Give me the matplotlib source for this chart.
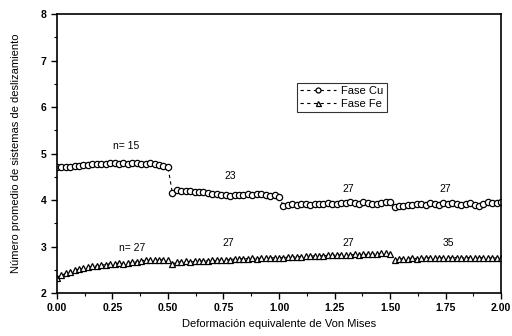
import numpy as np
import matplotlib
matplotlib.use("Agg")
import matplotlib.pyplot as plt
from matplotlib.ticker import MultipleLocator

plt.rcParams['font.family'] = ['Liberation Sans', 'DejaVu Sans']

# strain grid (sampling every 0.02 from 0 to 2.0)
strain = np.round(np.arange(0, 101) * 0.02, 2)

cu_seg1 = [4.71, 4.72, 4.71, 4.72, 4.73, 4.74, 4.75, 4.76, 4.77, 4.77, 4.78, 4.78, 4.79,
           4.79, 4.78, 4.79, 4.78, 4.79, 4.80, 4.78, 4.77, 4.79, 4.77, 4.76, 4.74, 4.71]
cu_seg2 = [4.15, 4.22, 4.20, 4.19, 4.19, 4.18, 4.17, 4.17, 4.15, 4.13, 4.12, 4.10, 4.10,
           4.09, 4.10, 4.10, 4.11, 4.12, 4.11, 4.12, 4.13, 4.10, 4.08, 4.10, 4.07]
cu_seg3 = [3.87, 3.90, 3.91, 3.90, 3.92, 3.91, 3.90, 3.92, 3.91, 3.92, 3.93, 3.91, 3.92,
           3.94, 3.93, 3.95, 3.93, 3.92, 3.95, 3.93, 3.92, 3.91, 3.94, 3.95, 3.96]
cu_seg4 = [3.85, 3.88, 3.87, 3.89, 3.90, 3.91, 3.92, 3.90, 3.93, 3.91, 3.90, 3.93, 3.92,
           3.94, 3.91, 3.90, 3.92, 3.94, 3.90, 3.88, 3.91, 3.95, 3.94, 3.93, 3.95]

fe_seg1 = [2.33, 2.38, 2.42, 2.46, 2.49, 2.51, 2.53, 2.55, 2.57, 2.58, 2.60, 2.61, 2.63,
           2.63, 2.64, 2.63, 2.64, 2.66, 2.67, 2.69, 2.71, 2.70, 2.72, 2.71, 2.72, 2.70]
fe_seg2 = [2.62, 2.66, 2.67, 2.68, 2.67, 2.68, 2.68, 2.69, 2.69, 2.70, 2.70, 2.71, 2.72,
           2.72, 2.73, 2.73, 2.74, 2.74, 2.75, 2.74, 2.75, 2.76, 2.75, 2.76, 2.76]
fe_seg3 = [2.76, 2.77, 2.77, 2.78, 2.78, 2.79, 2.79, 2.80, 2.80, 2.80, 2.81, 2.81, 2.82,
           2.82, 2.81, 2.82, 2.83, 2.82, 2.83, 2.83, 2.84, 2.84, 2.85, 2.86, 2.84]
fe_seg4 = [2.70, 2.73, 2.74, 2.74, 2.75, 2.74, 2.75, 2.75, 2.76, 2.75, 2.75, 2.76, 2.75,
           2.76, 2.76, 2.75, 2.76, 2.76, 2.75, 2.76, 2.76, 2.75, 2.76, 2.75, 2.76]

cu = cu_seg1 + cu_seg2 + cu_seg3 + cu_seg4
fe = fe_seg1 + fe_seg2 + fe_seg3 + fe_seg4

# annotations: (x, y, text)
ann_x = [0.31, 0.78, 1.31, 1.75, 0.34, 0.77, 1.31, 1.76]
ann_y = [5.17, 4.52, 4.24, 4.24, 2.97, 3.07, 3.07, 3.07]
ann_t = ["n= 15", "23", "27", "27", "n= 27", "27", "27", "35"]

fig = plt.figure(figsize=(5.12, 3.36), dpi=100)
ax = fig.add_axes([0.111, 0.128, 0.868, 0.830])

ax.plot(strain, cu, linestyle=(0, (3, 3)), color='black', linewidth=0.8,
        marker='o', markersize=4.5, markerfacecolor='white', markeredgecolor='black',
        markeredgewidth=0.9, label='Fase Cu')
ax.plot(strain, fe, linestyle=(0, (3, 3)), color='black', linewidth=0.8,
        marker='^', markersize=4.5, markerfacecolor='white', markeredgecolor='black',
        markeredgewidth=0.9, label='Fase Fe')

for x, y, t in zip(ann_x, ann_y, ann_t):
    ax.text(x, y, t, ha='center', va='center', fontsize=7.5)

ax.set_xlim(0, 2.0)
ax.set_ylim(2, 8)
ax.xaxis.set_major_locator(MultipleLocator(0.25))
ax.xaxis.set_minor_locator(MultipleLocator(0.125))
ax.yaxis.set_major_locator(MultipleLocator(1))
ax.yaxis.set_minor_locator(MultipleLocator(0.5))
ax.set_xticklabels([f"{v:.2f}" for v in ax.get_xticks()])
ax.tick_params(which='major', direction='out', length=4, width=1, labelsize=7.5)
ax.tick_params(which='minor', direction='out', length=2, width=0.8)
for lbl in ax.get_xticklabels() + ax.get_yticklabels():
    lbl.set_fontweight('bold')
for s in ax.spines.values():
    s.set_linewidth(1.2)

ax.set_xlabel('Deformación equivalente de Von Mises', fontsize=8, labelpad=4)
ax.set_ylabel('Número promedio de sistemas de deslizamiento', fontsize=8, labelpad=14)

leg = ax.legend(loc='upper left', bbox_to_anchor=(0.54, 0.753), borderaxespad=0,
                fontsize=8, frameon=True, fancybox=False, edgecolor='black',
                handlelength=3.2, handletextpad=0.5, borderpad=0.3, labelspacing=0.25,
                markerscale=0.8)
leg.get_frame().set_linewidth(0.8)

fig.savefig('out.png', dpi=100)
